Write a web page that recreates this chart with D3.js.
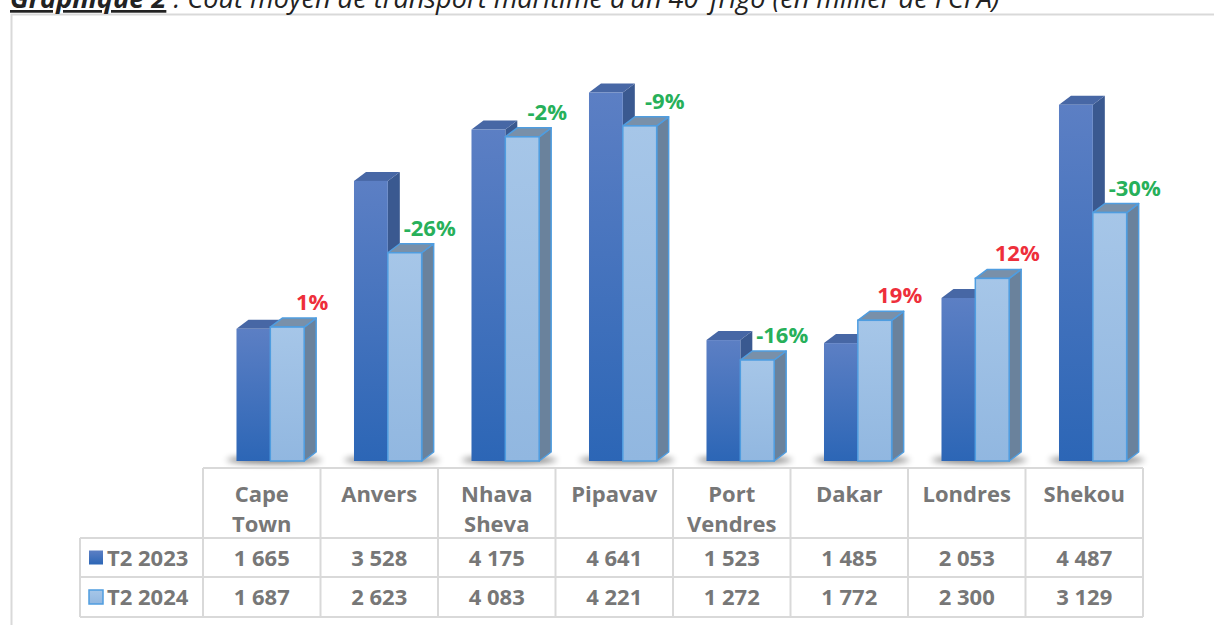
<!DOCTYPE html>
<html>
<head>
<meta charset="utf-8">
<script src="https://cdn.jsdelivr.net/npm/d3@7"></script>
<style>
  html, body { margin: 0; padding: 0; background: #fff; overflow: hidden; }
  svg { display: block; }
</style>
</head>
<body>
<svg id="chart" width="1214" height="625"></svg>
<script>
// data (milliers de FCFA)
const categories = ["Cape Town", "Anvers", "Nhava Sheva", "Pipavav", "Port Vendres", "Dakar", "Londres", "Shekou"];
const seriesNames = ["T2 2023", "T2 2024"];
const values2023 = [1665, 3528, 4175, 4641, 1523, 1485, 2053, 4487];
const values2024 = [1687, 2623, 4083, 4221, 1272, 1772, 2300, 3129];
const changes = [1, -26, -2, -9, -16, 19, 12, -30];

const svg = d3.select("#chart");
const font = "'Open Sans', 'DejaVu Sans', sans-serif";
const grey = "#777777";
const lineCol = "#d9d9d9";

const margin = { left: 203, right: 1143, base: 461, top: 64 };
const depth = { dx: 12, dy: -9 };

const fr = d3.formatLocale({ decimal: ",", thousands: "\u00a0", grouping: [3], currency: ["", ""] });
const fmt = fr.format(",d");

/* defs: gradients + blur for the floor shadow */
const defs = svg.append("defs");
const g1 = defs.append("linearGradient").attr("id", "dark").attr("x1", 0).attr("y1", 0).attr("x2", 0).attr("y2", 1);
g1.append("stop").attr("offset", "0%").attr("stop-color", "#5c7fc4");
g1.append("stop").attr("offset", "100%").attr("stop-color", "#2c66b6");
const g2 = defs.append("linearGradient").attr("id", "light").attr("x1", 0).attr("y1", 0).attr("x2", 0).attr("y2", 1);
g2.append("stop").attr("offset", "0%").attr("stop-color", "#a6c6e8");
g2.append("stop").attr("offset", "100%").attr("stop-color", "#91b7e0");
defs.append("filter").attr("id", "blur").attr("x", "-50%").attr("y", "-200%").attr("width", "200%").attr("height", "500%")
  .append("feGaussianBlur").attr("stdDeviation", 3);

/* outer frame */
svg.append("rect")
  .attr("x", 11.5).attr("y", 14.5)
  .attr("width", 1250).attr("height", 700)
  .attr("fill", "none").attr("stroke", lineCol).attr("stroke-width", 2);

/* title (top cut off like the reference) */
const title = svg.append("text")
  .attr("x", 10).attr("y", 8)
  .style("font-family", font).style("font-style", "italic").style("font-size", "22px")
  .attr("fill", "#222");
title.append("tspan").style("font-weight", "bold").style("text-decoration", "underline").text("Graphique 2");
title.append("tspan").text(" : Coût moyen de transport maritime d’un 40’ frigo (en millier de FCFA)");
const tw = title.node().getComputedTextLength();
title.style("font-size", (22 * 990 / tw) + "px");

/* scales */
const x = d3.scaleBand().domain(categories).range([margin.left, margin.right]);
const y = d3.scaleLinear().domain([0, 5000]).range([margin.base, margin.top]);
const bw = x.bandwidth() * 0.288;
const off = x.bandwidth() * 0.285;

const data = categories.map((c, i) => ({ cat: c, v1: values2023[i], v2: values2024[i], ch: changes[i] }));

/* floor shadows */
svg.append("g").selectAll("ellipse").data(data).enter().append("ellipse")
  .attr("cx", d => x(d.cat) + off + bw + 4)
  .attr("cy", margin.base - 1)
  .attr("rx", bw + 14)
  .attr("ry", 3.5)
  .attr("fill", "#000").attr("opacity", 0.55)
  .attr("filter", "url(#blur)");

function bar3d(g, x0, val, front, side, top, edge) {
  const yt = y(val), h = margin.base - yt;
  const sw = edge === "none" ? 0 : 1.5;
  g.append("path")
    .attr("d", `M${x0 + bw},${yt} l${depth.dx},${depth.dy} v${h} l${-depth.dx},${-depth.dy} Z`)
    .attr("fill", side).attr("stroke", edge).attr("stroke-width", sw).attr("stroke-linejoin", "round");
  g.append("path")
    .attr("d", `M${x0},${yt} l${depth.dx},${depth.dy} h${bw} l${-depth.dx},${-depth.dy} Z`)
    .attr("fill", top).attr("stroke", edge).attr("stroke-width", sw).attr("stroke-linejoin", "round");
  g.append("rect")
    .attr("x", x0).attr("y", yt).attr("width", bw).attr("height", h)
    .attr("fill", front).attr("stroke", edge).attr("stroke-width", sw);
}

const bars = svg.append("g");
data.forEach(d => {
  const g = bars.append("g");
  bar3d(g, x(d.cat) + off, d.v1, "url(#dark)", "#3a5990", "#4767a5", "none");
  bar3d(g, x(d.cat) + off + bw, d.v2, "url(#light)", "#6a829c", "#7990a9", "#4f9de0");
});

/* change labels */
svg.append("g").selectAll("text").data(data).enter().append("text")
  .attr("x", d => x(d.cat) + off + bw * 1.5 + 25)
  .attr("y", d => y(d.v2) - 17)
  .attr("text-anchor", "middle")
  .style("font-family", font).style("font-weight", "bold").style("font-size", "22px")
  .attr("fill", d => d.ch >= 0 ? "#ee2f3b" : "#27b05a")
  .text(d => d.ch + "%");

/* data table */
const rows = { header: [468, 538], r1: [538, 577], r2: [577, 617] };
const legendLeft = 80;
const table = svg.append("g").attr("stroke", lineCol).attr("stroke-width", 2).attr("fill", "none");
// horizontal lines
table.append("line").attr("x1", margin.left).attr("x2", margin.right).attr("y1", rows.header[0]).attr("y2", rows.header[0]);
[rows.r1[0], rows.r2[0], rows.r2[1]].forEach(yy =>
  table.append("line").attr("x1", legendLeft).attr("x2", margin.right).attr("y1", yy).attr("y2", yy));
// vertical lines
categories.concat(["end"]).forEach((c, i) => {
  const xx = i < categories.length ? x(c) : margin.right;
  table.append("line").attr("x1", xx).attr("x2", xx).attr("y1", rows.header[0]).attr("y2", rows.r2[1]);
});
table.append("line").attr("x1", legendLeft).attr("x2", legendLeft).attr("y1", rows.r1[0]).attr("y2", rows.r2[1]);

const txt = svg.append("g")
  .style("font-family", font).style("font-weight", "bold").style("font-size", "22px")
  .attr("fill", grey).attr("text-anchor", "middle");

categories.forEach(c => {
  const words = c.split(" ");
  words.forEach((w, k) => {
    txt.append("text").attr("x", x(c) + x.bandwidth() / 2).attr("y", 502 + k * 30).text(w);
  });
});
[values2023, values2024].forEach((vals, r) => {
  const yy = (r === 0 ? rows.r1 : rows.r2);
  vals.forEach((v, i) => {
    txt.append("text").attr("x", x(categories[i]) + x.bandwidth() / 2).attr("y", (yy[0] + yy[1]) / 2 + 8).text(fmt(v));
  });
});

/* legend keys inside the table */
seriesNames.forEach((s, r) => {
  const yy = (r === 0 ? rows.r1 : rows.r2);
  const cy = (yy[0] + yy[1]) / 2;
  svg.append("rect")
    .attr("x", 89).attr("y", cy - 7).attr("width", 14).attr("height", 14)
    .attr("fill", r === 0 ? "url(#dark)" : "url(#light)")
    .attr("stroke", r === 0 ? "none" : "#4f9de0").attr("stroke-width", 1.5);
  svg.append("text")
    .attr("x", 107).attr("y", cy + 8)
    .style("font-family", font).style("font-weight", "bold").style("font-size", "22px")
    .attr("fill", grey).text(s);
});
</script>
</body>
</html>
